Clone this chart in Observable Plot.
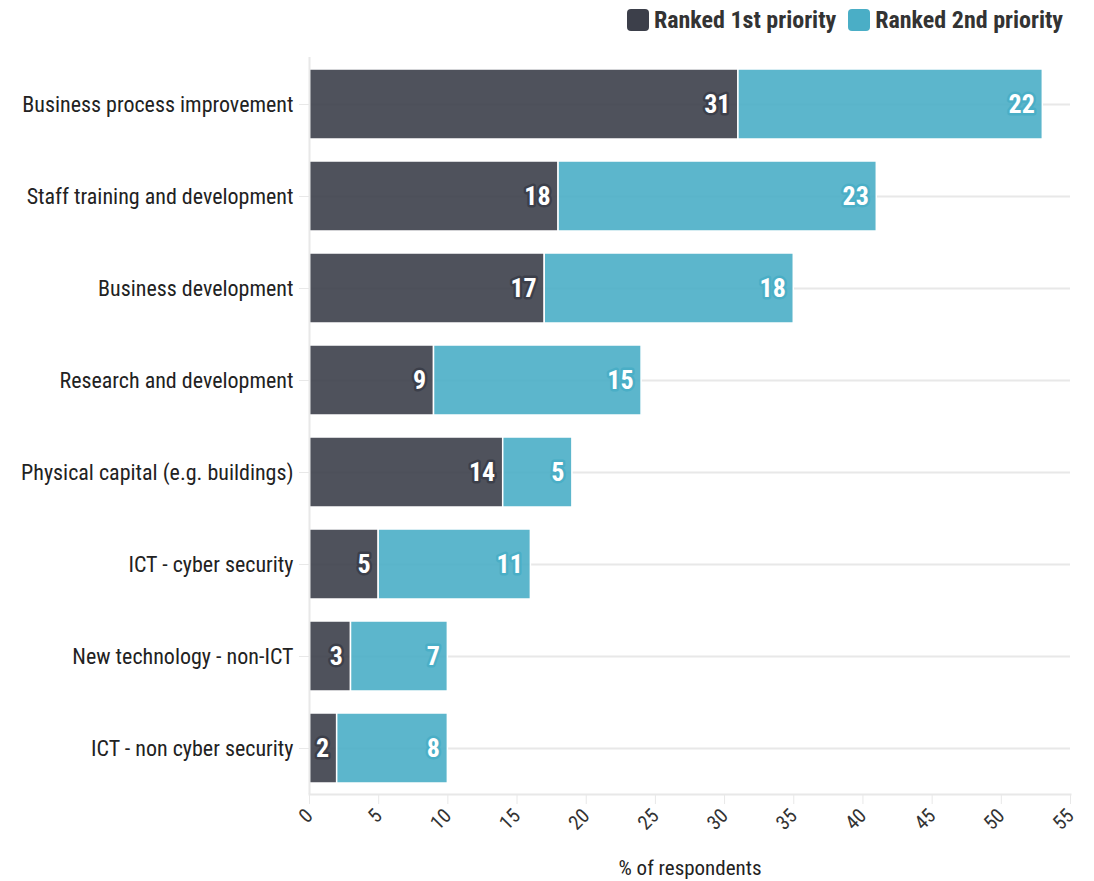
<!DOCTYPE html>
<html>
<head>
<meta charset="utf-8">
<script src="https://cdn.jsdelivr.net/npm/d3@7"></script>
<script src="https://cdn.jsdelivr.net/npm/@observablehq/plot@0.6"></script>
<style>
  html, body { margin: 0; padding: 0; background: #fff; }
  body { width: 1094px; height: 881px; overflow: hidden; font-family: "Roboto Condensed", "Liberation Sans Narrow", "DejaVu Sans Condensed", sans-serif; }
  #legend { height: 40px; display: flex; justify-content: flex-end; align-items: center; gap: 12px; padding-right: 31px; box-sizing: border-box; font-weight: bold; font-size: 24px; color: #333; }
  .item { display: flex; align-items: center; gap: 5px; }
  .sw { width: 22px; height: 22px; border-radius: 4px; display: inline-block; }
</style>
</head>
<body>
<div id="legend"></div>
<div id="chart"></div>
<script>
const categories = [
  "Business process improvement",
  "Staff training and development",
  "Business development",
  "Research and development",
  "Physical capital (e.g. buildings)",
  "ICT - cyber security",
  "New technology - non-ICT",
  "ICT - non cyber security"
];
const seriesNames = ["Ranked 1st priority", "Ranked 2nd priority"];
const first = [31, 18, 17, 9, 14, 5, 3, 2];
const second = [22, 23, 18, 15, 5, 11, 7, 8];
const colors = ["#3c3f4a", "#4aaec6"];
const xTicks = [0, 5, 10, 15, 20, 25, 30, 35, 40, 45, 50, 55];

const data = [];
categories.forEach((c, i) => {
  data.push({category: c, series: seriesNames[0], value: first[i]});
  data.push({category: c, series: seriesNames[1], value: second[i]});
});

const legend = document.getElementById("legend");
seriesNames.forEach((s, i) => {
  const it = document.createElement("div");
  it.className = "item";
  it.innerHTML = `<span class="sw" style="background:${colors[i]}"></span><span>${s}</span>`;
  legend.appendChild(it);
});

const font = getComputedStyle(document.body).fontFamily;
const chart = Plot.plot({
  width: 1094,
  height: 841,
  marginLeft: 309,
  marginRight: 24,
  marginTop: 17,
  marginBottom: 87,
  style: {fontFamily: font, fontSize: "20px", color: "#333", background: "#fff"},
  x: {domain: [0, 55]},
  y: {domain: categories, label: null, padding: 0.24, paddingOuter: 0.11},
  color: {domain: seriesNames, range: colors},
  marks: [
    Plot.ruleY(categories, {y: d => d, x1: 0, x2: 55, stroke: "#e8e8e8", strokeWidth: 2}),
    Plot.barX(data, Plot.stackX({x: "value", y: "category", fill: "series", fillOpacity: 0.9, stroke: "white", strokeWidth: 1.5, order: seriesNames})),
    Plot.text(data, Plot.stackX2({x: "value", y: "category", order: seriesNames, text: d => String(d.value), fill: "white", stroke: "series", strokeWidth: 5, textAnchor: "end", dx: -8, fontSize: 26, fontWeight: "bold"})),
    Plot.axisY({tickSize: 10, tickPadding: 6, stroke: "#e8e8e8", fontSize: 22, fill: "#222"}),
    Plot.ruleX([0], {stroke: "#e8e8e8", strokeWidth: 2}),
    Plot.axisX({ticks: xTicks, tickRotate: -45, tickSize: 10, tickPadding: 8, stroke: "#e8e8e8", fill: "#333", fontSize: 20, label: null}),
    Plot.axisX({ticks: [], label: "% of respondents", labelAnchor: "center", labelArrow: "none", labelOffset: 80, fontSize: 21, fill: "#222"}),
    Plot.frame({anchor: "bottom", stroke: "#e8e8e8", strokeWidth: 2})
  ]
});
document.getElementById("chart").appendChild(chart);
</script>
</body>
</html>
